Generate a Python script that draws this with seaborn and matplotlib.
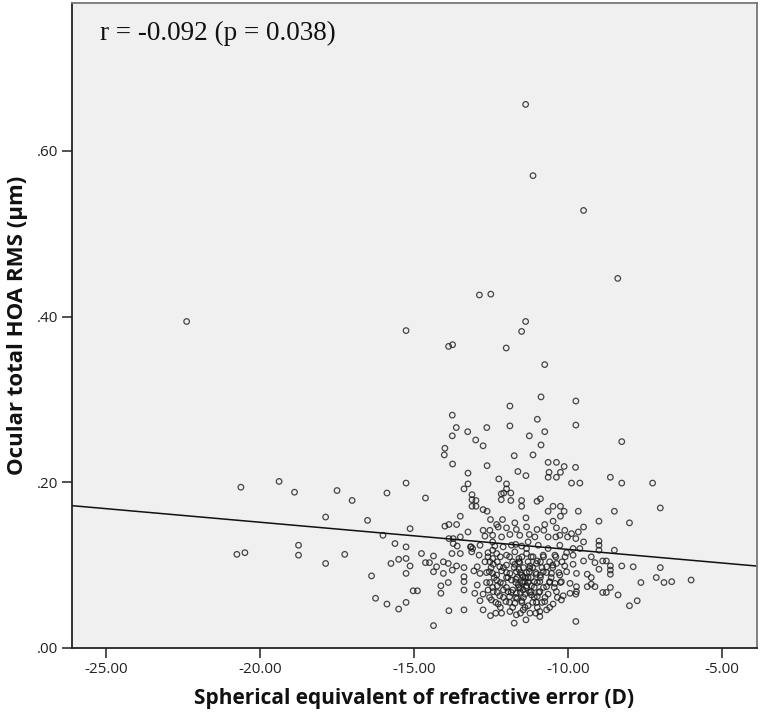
import matplotlib
matplotlib.use("Agg")
import matplotlib.pyplot as plt
import seaborn as sns
import pandas as pd
from matplotlib.ticker import FuncFormatter

# (spherical equivalent D, ocular total HOA RMS um)
high_points = [
    (-11.38, 0.656), (-11.14, 0.570), (-9.50, 0.528), (-8.39, 0.446), (-12.88, 0.426),
    (-12.51, 0.427), (-22.38, 0.394), (-15.26, 0.383), (-11.38, 0.394), (-11.51, 0.382),
    (-13.88, 0.364), (-13.75, 0.366), (-12.01, 0.362), (-10.76, 0.342), (-10.88, 0.303),
    (-9.75, 0.298), (-11.89, 0.292), (-13.76, 0.281), (-11.00, 0.276), (-9.75, 0.269),
    (-13.63, 0.266), (-12.64, 0.266), (-11.89, 0.268), (-13.26, 0.261), (-10.76, 0.261),
    (-13.76, 0.256), (-11.26, 0.256), (-13.00, 0.251), (-8.26, 0.249), (-12.76, 0.244),
    (-10.88, 0.245), (-14.00, 0.241),
]

left_points = [
    (-20.62, 0.194), (-19.38, 0.201), (-18.88, 0.188), (-17.50, 0.190), (-17.01, 0.178),
    (-15.88, 0.187), (-17.87, 0.158), (-16.51, 0.154), (-16.01, 0.136), (-15.62, 0.126),
    (-20.75, 0.113), (-20.49, 0.115), (-18.75, 0.124), (-18.75, 0.112), (-17.87, 0.102),
    (-17.25, 0.113), (-16.38, 0.087), (-15.75, 0.102), (-15.50, 0.107), (-16.25, 0.060),
    (-15.88, 0.053), (-15.50, 0.047),
]

right_points = [
    (-8.63, 0.206), (-8.26, 0.199), (-7.26, 0.199), (-7.01, 0.169), (-8.50, 0.165),
    (-9.00, 0.153), (-8.01, 0.151), (-9.50, 0.146), (-9.75, 0.132), (-9.50, 0.128),
    (-9.00, 0.129), (-9.00, 0.124), (-9.00, 0.118), (-8.50, 0.118), (-9.50, 0.105),
    (-9.25, 0.110), (-9.13, 0.103), (-8.88, 0.105), (-8.76, 0.105), (-9.00, 0.095),
    (-8.63, 0.099), (-8.63, 0.094), (-8.63, 0.089), (-8.26, 0.099), (-7.89, 0.098),
    (-7.01, 0.097), (-9.38, 0.089), (-9.25, 0.085), (-9.38, 0.074), (-9.25, 0.077),
    (-9.13, 0.074), (-9.75, 0.065), (-8.88, 0.067), (-8.76, 0.067), (-8.63, 0.073),
    (-8.38, 0.064), (-7.64, 0.079), (-7.14, 0.085), (-6.89, 0.079), (-6.64, 0.080),
    (-6.01, 0.082), (-8.01, 0.051), (-7.76, 0.057),
]

core_points = [
    (-14.02, 0.233), (-11.75, 0.232), (-11.14, 0.233), (-13.75, 0.222), (-12.63, 0.220),
    (-10.65, 0.224), (-10.38, 0.224), (-10.13, 0.219), (-9.76, 0.218), (-13.25, 0.211),
    (-11.63, 0.213), (-11.37, 0.208), (-12.25, 0.204), (-10.62, 0.212), (-10.25, 0.212),
    (-10.65, 0.206), (-10.38, 0.206), (-15.26, 0.199), (-13.25, 0.198), (-12.00, 0.198),
    (-9.89, 0.199), (-9.62, 0.199), (-13.38, 0.192), (-12.00, 0.192), (-11.86, 0.187),
    (-12.17, 0.186), (-13.12, 0.185), (-12.09, 0.187), (-14.63, 0.181), (-13.12, 0.179),
    (-12.99, 0.178), (-12.17, 0.179), (-11.86, 0.178), (-11.51, 0.178), (-10.90, 0.180),
    (-11.01, 0.177), (-13.12, 0.171), (-12.99, 0.171), (-11.51, 0.171), (-12.76, 0.167),
    (-12.63, 0.165), (-10.65, 0.165), (-10.49, 0.171), (-10.25, 0.171), (-10.13, 0.165),
    (-9.67, 0.165), (-13.50, 0.159), (-12.52, 0.155), (-12.13, 0.155), (-11.37, 0.157),
    (-10.25, 0.159), (-14.00, 0.147), (-13.87, 0.149), (-13.62, 0.149), (-12.32, 0.149),
    (-11.73, 0.151), (-10.76, 0.149), (-10.49, 0.153), (-15.13, 0.144), (-13.25, 0.140),
    (-12.76, 0.142), (-12.54, 0.142), (-12.27, 0.146), (-12.00, 0.145), (-11.68, 0.143),
    (-11.35, 0.146), (-11.01, 0.143), (-10.79, 0.142), (-10.38, 0.145), (-10.11, 0.142),
    (-9.89, 0.138), (-9.67, 0.140), (-13.87, 0.132), (-13.73, 0.132), (-13.50, 0.134),
    (-12.70, 0.135), (-12.45, 0.136), (-12.16, 0.134), (-11.89, 0.137), (-11.57, 0.136),
    (-11.26, 0.137), (-11.08, 0.134), (-10.65, 0.134), (-10.40, 0.134), (-10.27, 0.136),
    (-10.02, 0.134), (-15.26, 0.122), (-13.73, 0.126), (-13.60, 0.123), (-13.17, 0.122),
    (-12.86, 0.124), (-12.38, 0.123), (-12.11, 0.122), (-11.84, 0.124), (-11.51, 0.123),
    (-11.35, 0.120), (-10.97, 0.124), (-10.65, 0.120), (-10.27, 0.124), (-9.84, 0.120),
    (-9.62, 0.120), (-15.26, 0.108), (-14.76, 0.114), (-14.37, 0.111), (-14.05, 0.104),
    (-13.77, 0.114), (-13.50, 0.114), (-13.13, 0.116), (-12.89, 0.112), (-12.60, 0.115),
    (-12.32, 0.114), (-12.00, 0.112), (-11.73, 0.116), (-11.35, 0.114), (-11.14, 0.110),
    (-10.81, 0.112), (-10.43, 0.112), (-10.05, 0.115), (-9.84, 0.112), (-15.13, 0.099),
    (-14.63, 0.103), (-14.50, 0.103), (-14.27, 0.098), (-13.89, 0.102), (-13.62, 0.099),
    (-13.38, 0.097), (-12.95, 0.098), (-12.54, 0.104), (-12.43, 0.101), (-12.22, 0.098),
    (-12.00, 0.100), (-11.73, 0.101), (-11.57, 0.103), (-11.24, 0.099), (-11.03, 0.102),
    (-10.70, 0.098), (-10.38, 0.102), (-10.11, 0.099), (-9.84, 0.101), (-15.26, 0.090),
    (-14.37, 0.092), (-14.05, 0.090), (-13.76, 0.094), (-13.38, 0.086), (-13.06, 0.093),
    (-12.86, 0.090), (-12.56, 0.092), (-12.32, 0.088), (-12.16, 0.093), (-11.89, 0.090),
    (-11.68, 0.092), (-11.46, 0.086), (-11.26, 0.092), (-11.03, 0.089), (-10.81, 0.092),
    (-10.54, 0.090), (-10.27, 0.088), (-10.05, 0.092), (-9.73, 0.090), (-14.13, 0.075),
    (-13.89, 0.079), (-13.38, 0.080), (-12.95, 0.076), (-12.54, 0.079), (-12.32, 0.082),
    (-12.11, 0.078), (-11.84, 0.082), (-11.62, 0.076), (-11.40, 0.080), (-11.19, 0.075),
    (-10.92, 0.080), (-10.70, 0.074), (-10.43, 0.078), (-10.22, 0.080), (-9.94, 0.078),
    (-9.73, 0.074), (-15.03, 0.069), (-14.89, 0.069), (-14.13, 0.066), (-13.38, 0.070),
    (-13.03, 0.066), (-12.76, 0.065), (-12.43, 0.068), (-12.22, 0.063), (-11.95, 0.068),
    (-11.68, 0.066), (-11.46, 0.070), (-11.19, 0.064), (-10.92, 0.068), (-10.65, 0.065),
    (-10.38, 0.068), (-10.16, 0.063), (-9.94, 0.066), (-9.73, 0.068), (-15.26, 0.055),
    (-12.86, 0.057), (-12.49, 0.058), (-12.27, 0.053), (-12.02, 0.056), (-11.73, 0.054),
    (-11.51, 0.057), (-11.30, 0.051), (-11.03, 0.055), (-10.76, 0.056), (-10.49, 0.053),
    (-10.22, 0.058), (-13.87, 0.045), (-13.38, 0.046), (-12.76, 0.046), (-12.52, 0.039),
    (-12.16, 0.042), (-11.89, 0.044), (-11.68, 0.040), (-11.46, 0.046), (-11.24, 0.042),
    (-10.92, 0.044), (-10.70, 0.046), (-14.37, 0.027), (-11.75, 0.030), (-11.37, 0.034),
    (-9.75, 0.032), (-10.92, 0.038),
]

# overlapping points in the darkest part of the cloud
core_overlap = [
    (-11.60, 0.095), (-11.50, 0.088), (-11.45, 0.080), (-11.55, 0.072), (-11.40, 0.065),
    (-11.65, 0.060), (-11.30, 0.085), (-11.35, 0.075), (-11.70, 0.083), (-11.80, 0.070),
    (-11.20, 0.068), (-11.25, 0.096), (-11.90, 0.062), (-12.00, 0.085), (-12.10, 0.070),
    (-11.10, 0.080), (-11.00, 0.062), (-10.90, 0.088), (-12.30, 0.075), (-12.45, 0.090),
    (-12.60, 0.070), (-12.45, 0.108), (-12.45, 0.118), (-12.45, 0.128), (-11.60, 0.108),
    (-11.00, 0.105), (-10.60, 0.080), (-10.50, 0.100), (-11.70, 0.125), (-11.30, 0.128),
    (-13.15, 0.122), (-13.10, 0.120),
    (-12.60, 0.110), (-12.20, 0.110), (-11.90, 0.110), (-11.50, 0.110), (-11.20, 0.110),
    (-10.80, 0.110), (-10.40, 0.110), (-10.10, 0.110), (-12.70, 0.104), (-12.30, 0.104),
    (-11.80, 0.104), (-11.60, 0.104), (-11.30, 0.104), (-10.90, 0.104), (-10.60, 0.104),
    (-10.20, 0.104), (-12.50, 0.097), (-12.10, 0.097), (-11.75, 0.097), (-11.45, 0.097),
    (-11.15, 0.097), (-10.85, 0.097), (-10.50, 0.097), (-12.65, 0.091), (-12.00, 0.091),
    (-11.55, 0.091), (-11.35, 0.091), (-11.05, 0.091), (-10.70, 0.091), (-10.30, 0.091),
    (-12.40, 0.085), (-11.95, 0.085), (-11.65, 0.085), (-11.40, 0.085), (-11.20, 0.085),
    (-10.90, 0.085), (-10.55, 0.085), (-12.65, 0.079), (-12.20, 0.079), (-11.70, 0.079),
    (-11.50, 0.079), (-11.30, 0.079), (-11.00, 0.079), (-10.60, 0.079), (-10.25, 0.079),
    (-12.45, 0.073), (-12.00, 0.073), (-11.60, 0.073), (-11.35, 0.073), (-11.10, 0.073),
    (-10.80, 0.073), (-10.45, 0.073), (-12.30, 0.067), (-11.85, 0.067), (-11.55, 0.067),
    (-11.25, 0.067), (-10.95, 0.067), (-12.55, 0.061), (-12.10, 0.061), (-11.70, 0.061),
    (-11.45, 0.061), (-11.10, 0.061), (-10.75, 0.061), (-10.35, 0.061), (-12.35, 0.055),
    (-11.90, 0.055), (-11.50, 0.055), (-11.15, 0.055), (-10.85, 0.055), (-12.20, 0.049),
    (-11.80, 0.049), (-11.40, 0.049), (-11.00, 0.049), (-10.60, 0.049), (-12.35, 0.042),
    (-11.55, 0.042), (-11.05, 0.042),
]

x_ticks = [-25, -20, -15, -10, -5]
y_ticks = [0.0, 0.2, 0.4, 0.6]
x_range = (-26.11, -3.88)
y_range = (0, 0.778)
annotation = "r = -0.092 (p = 0.038)"
x_label = "Spherical equivalent of refractive error (D)"
y_label = "Ocular total HOA RMS (\u00b5m)"

points = high_points + left_points + right_points + core_points + core_overlap
df = pd.DataFrame(points, columns=["se", "hoa"])

sns.set_style("white")
plt.rcParams["font.family"] = ["Open Sans", "DejaVu Sans"]

fig = plt.figure(figsize=(7.62, 7.16), dpi=100)
ax = fig.add_axes([0.0941, 0.0950, 0.8990, 0.9004])
ax.set_facecolor("#f0f0f0")
ax.set_xlim(*x_range)
ax.set_ylim(*y_range)

# fit line spans the whole x axis, as in SPSS
sns.regplot(data=df, x="se", y="hoa", ax=ax, ci=None, truncate=False,
            scatter_kws=dict(s=16, facecolors="none", edgecolors="#1a1a1a", linewidths=0.9),
            line_kws=dict(color="#111111", lw=1.1))

ax.set_xlim(*x_range)
ax.set_ylim(*y_range)
ax.set_xticks(x_ticks)
ax.set_yticks(y_ticks)
ax.xaxis.set_major_formatter(FuncFormatter(lambda v, p: f"{v:.2f}"))
ax.yaxis.set_major_formatter(FuncFormatter(lambda v, p: f"{v:.2f}".lstrip("0")))
ax.tick_params(axis="both", direction="out", length=7, width=1.1, color="#222222",
               labelsize=11, labelcolor="#222222", pad=3, bottom=True, left=True)

for side in ["left", "bottom"]:
    ax.spines[side].set_color("#222222")
    ax.spines[side].set_linewidth(1.3)
for side in ["top", "right"]:
    ax.spines[side].set_color("#777777")
    ax.spines[side].set_linewidth(1.3)

ax.set_xlabel(x_label, fontsize=15, fontweight="bold", color="#111111", labelpad=8)
ax.set_ylabel(y_label, fontsize=16, fontweight="bold", color="#111111", labelpad=6)

ax.text(0.041, 0.954, annotation, transform=ax.transAxes, ha="left", va="center",
        fontsize=19.5, family=["Liberation Serif", "DejaVu Serif"], color="#111111")

fig.savefig("out.png", dpi=100)
